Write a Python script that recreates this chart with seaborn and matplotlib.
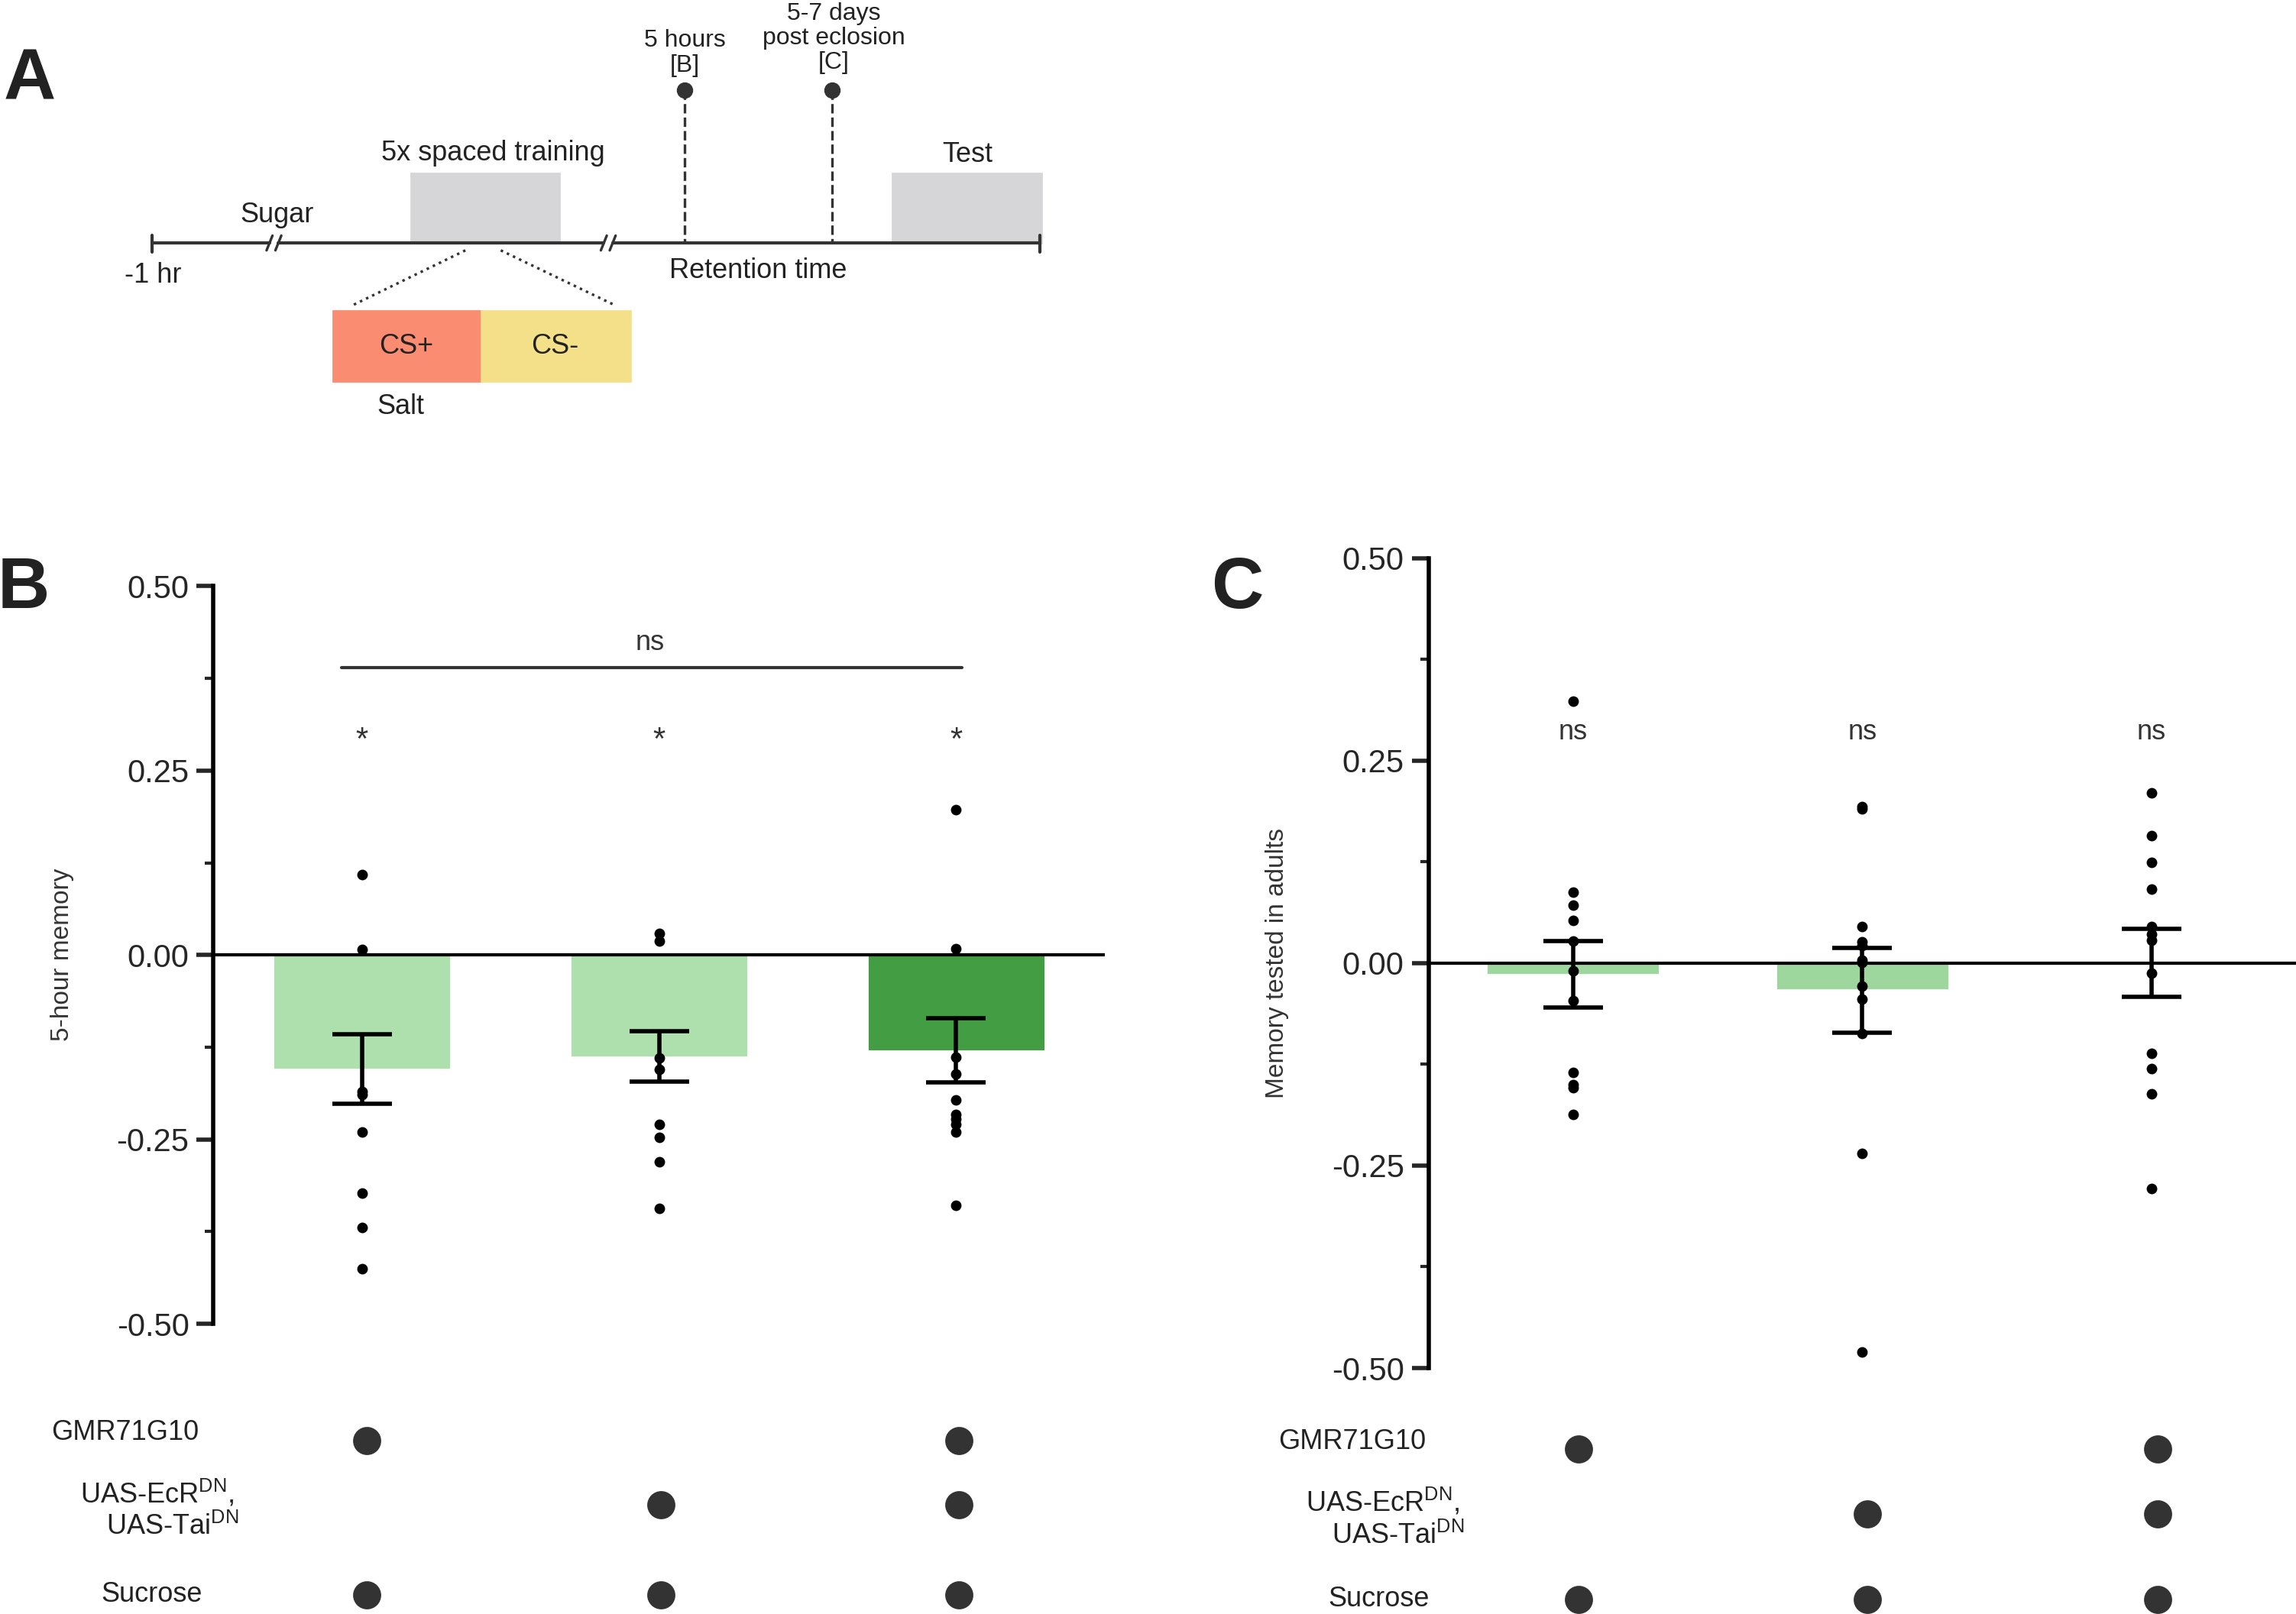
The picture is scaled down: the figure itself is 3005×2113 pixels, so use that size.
import numpy as np
import pandas as pd
import matplotlib.pyplot as plt
import seaborn as sns
from matplotlib.patches import Rectangle

# ---- data ----
groups = ["G1", "G2", "G3"]

b_points = [
    [0.109, 0.007, -0.185, -0.189, -0.240, -0.323, -0.369, -0.425],
    [0.029, 0.019, -0.140, -0.155, -0.230, -0.247, -0.280, -0.343],
    [0.197, 0.009, -0.138, -0.161, -0.196, -0.216, -0.222, -0.230, -0.240, -0.339],
]
b_means = [-0.155, -0.138, -0.130]
b_err_hi = [-0.107, -0.103, -0.086]
b_err_lo = [-0.202, -0.172, -0.173]
b_colors = ["#ade0ad", "#ade0ad", "#439e43"]

c_points = [
    [0.323, 0.088, 0.072, 0.053, 0.027, -0.010, -0.046, -0.135, -0.150, -0.154, -0.187],
    [0.193, 0.190, 0.045, 0.026, 0.022, 0.004, 0.001, -0.028, -0.044, -0.087, -0.235, -0.480],
    [0.210, 0.157, 0.124, 0.091, 0.045, 0.036, 0.028, -0.012, -0.111, -0.130, -0.161, -0.278],
]
c_means = [-0.014, -0.033, 0.0]
c_err_hi = [0.027, 0.019, 0.042]
c_err_lo = [-0.055, -0.086, -0.042]
c_colors = ["#9ed79e", "#9ed79e", "#9ed79e"]

geno_rows = ["GMR71G10", "UAS-EcR", "Sucrose"]
geno_present = [[1, 0, 1], [0, 1, 1], [1, 1, 1]]

sns.set_style("white")
plt.rcParams["font.family"] = ["Liberation Sans", "DejaVu Sans"]

W, H = 1559, 1096
fig = plt.figure(figsize=(15.025, 10.565), dpi=200)
bg = fig.add_axes([0, 0, 1, 1])
bg.set_xlim(0, W)
bg.set_ylim(H, 0)
bg.axis("off")


def rect(x0, x1, y0, y1):
    return [x0 / W, 1 - y1 / H, (x1 - x0) / W, (y1 - y0) / H]


def panel(box, points, means, hi, lo, colors, ylabel):
    ax = fig.add_axes(box)
    df = pd.DataFrame({"g": groups, "m": means})
    sns.barplot(data=df, x="g", y="m", hue="g", palette=colors, width=0.6,
                legend=False, ax=ax, saturation=1)
    pts = pd.DataFrame([(g, v) for g, vs in zip(groups, points) for v in vs], columns=["g", "v"])
    sns.stripplot(data=pts, x="g", y="v", jitter=False, color="black", size=5, ax=ax, zorder=5)
    m = np.array(means)
    ax.errorbar(range(3), m, yerr=[m - np.array(lo), np.array(hi) - m], fmt="none",
                ecolor="black", elinewidth=2, capsize=14, capthick=2, zorder=6)
    ax.axhline(0, color="black", lw=1.5, zorder=4)
    ax.set_xlim(-0.5, 2.5)
    ax.set_ylim(-0.5, 0.5)
    ax.set_yticks([-0.5, -0.25, 0, 0.25, 0.5])
    ax.set_yticks([-0.375, -0.125, 0.125, 0.375], minor=True)
    ax.set_yticklabels(["-0.50", "-0.25", "0.00", "0.25", "0.50"], fontsize=15)
    ax.tick_params(axis="y", which="major", direction="out", length=8, width=2, left=True)
    ax.tick_params(axis="y", which="minor", direction="out", length=4, width=1.5, left=True)
    ax.set_xticks([])
    ax.set_xlabel("")
    ax.set_ylabel(ylabel, fontsize=12, color="#333333", labelpad=20)
    for s in ["top", "right", "bottom"]:
        ax.spines[s].set_visible(False)
    ax.spines["left"].set_linewidth(2)
    ax.spines["left"].set_color("black")
    ax.patch.set_alpha(0)
    return ax


axB = panel(rect(145, 750, 398, 899), b_points, b_means, b_err_hi, b_err_lo, b_colors,
            "5-hour memory")
for i in range(3):
    axB.text(i, 0.29, "*", ha="center", va="center", fontsize=15, color="#333333")
axB.plot([-0.07, 2.02], [0.39, 0.39], color="#333333", lw=1.5)
axB.text(0.97, 0.405, "ns", ha="center", va="bottom", fontsize=13, color="#333333")

axC = panel(rect(970, 1559, 379, 929), c_points, c_means, c_err_hi, c_err_lo, c_colors,
            "Memory tested in adults")
for i in range(3):
    axC.text(i, 0.285, "ns", ha="center", va="center", fontsize=13, color="#333333")


# genotype tables
def table(xs, ys, label_x, right_x):
    for r, y in enumerate(ys):
        for i, x in enumerate(xs):
            if geno_present[r][i]:
                bg.scatter(x, y, s=150, color="#333333")
    bg.text(label_x, ys[0] - 5, geno_rows[0], ha="center", va="center", fontsize=13, color="#222222")
    bg.text(right_x - 3, ys[1] - 8, r"UAS-EcR$^{\mathregular{DN}}$,", ha="right", va="center",
            fontsize=13, color="#222222")
    bg.text(right_x, ys[1] + 15, r"UAS-Tai$^{\mathregular{DN}}$", ha="right", va="center",
            fontsize=13, color="#222222")
    bg.text(label_x + 18, ys[2], geno_rows[2], ha="center", va="center", fontsize=13, color="#222222")


table([249, 449, 651], [978, 1022, 1083], 85, 162)
table([1072, 1268, 1465], [984, 1028, 1086], 918, 994)

# panel letters
for t, x, y in [("A", 20, 55), ("B", 16, 400), ("C", 840, 400)]:
    bg.text(x, y, t, ha="center", va="center", fontsize=34, fontweight="bold", color="#222222")

# schematic A
lc = "#333333"
bg.plot([103, 183], [165, 165], color=lc, lw=1.5)
bg.plot([189, 410], [165, 165], color=lc, lw=1.5)
bg.plot([416, 706], [165, 165], color=lc, lw=1.5)
for bx in [183, 189, 410, 416]:
    bg.plot([bx - 2, bx + 2], [170, 160], color=lc, lw=1.2)
bg.plot([103, 103], [160, 171], color=lc, lw=1.5)
bg.plot([706, 706], [160, 171], color=lc, lw=1.5)
bg.add_patch(Rectangle((279, 118), 101, 47, color="#d6d6d8", zorder=0))
bg.add_patch(Rectangle((606, 118), 101, 47, color="#d6d6d8", zorder=0))
bg.add_patch(Rectangle((226, 211), 101, 48, color="#fa8c72"))
bg.add_patch(Rectangle((327, 211), 101, 48, color="#f5e08a"))
bg.plot([316, 240], [170, 207], color=lc, lw=1.2, ls=":")
bg.plot([340, 417], [170, 207], color=lc, lw=1.2, ls=":")
for x in [465, 565]:
    bg.plot([x, x], [61, 165], color=lc, lw=1.2, ls="--")
    bg.scatter(x, 61, s=45, color=lc, zorder=5)
fs = 13
bg.text(188, 146, "Sugar", ha="center", va="center", fontsize=fs, color="#222222")
bg.text(335, 104, "5x spaced training", ha="center", va="center", fontsize=fs, color="#222222")
bg.text(657, 105, "Test", ha="center", va="center", fontsize=fs, color="#222222")
bg.text(104, 187, "-1 hr", ha="center", va="center", fontsize=fs, color="#222222")
bg.text(515, 184, "Retention time", ha="center", va="center", fontsize=fs, color="#222222")
bg.text(276, 235, "CS+", ha="center", va="center", fontsize=fs, color="#222222")
bg.text(377, 235, "CS-", ha="center", va="center", fontsize=fs, color="#222222")
bg.text(272, 276, "Salt", ha="center", va="center", fontsize=fs, color="#222222")
bg.text(465, 36, "5 hours\n[B]", ha="center", va="center", fontsize=11.5, color="#222222", linespacing=1.1)
bg.text(566, 26, "5-7 days\npost eclosion\n[C]", ha="center", va="center", fontsize=11.5,
        color="#222222", linespacing=1.1)

fig.savefig("out.png", dpi=200)
